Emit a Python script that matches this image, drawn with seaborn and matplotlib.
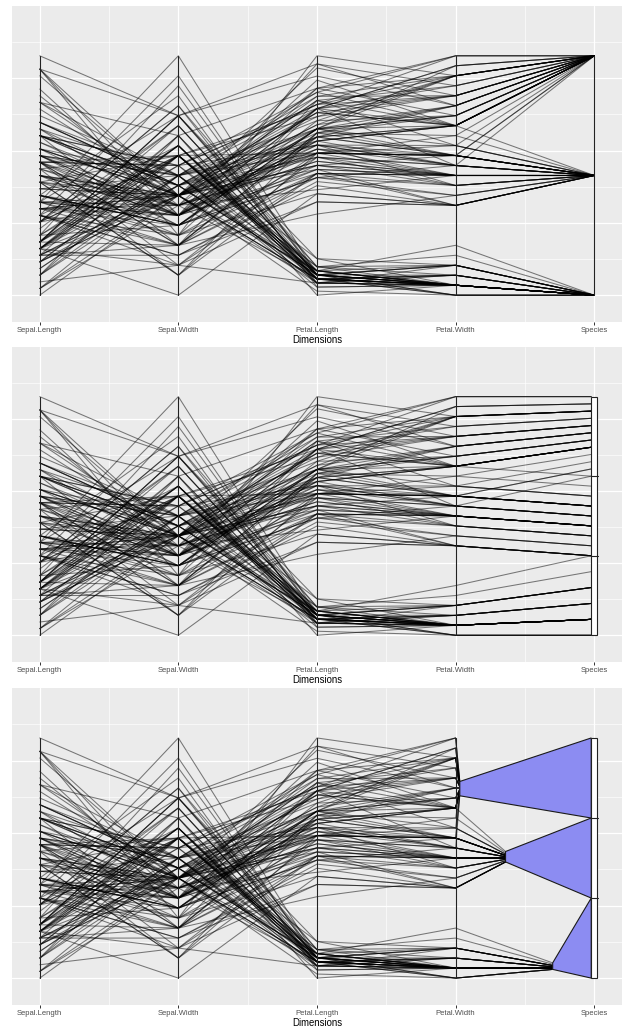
import numpy as np
import pandas as pd
import matplotlib
matplotlib.use("Agg")
import matplotlib.pyplot as plt
from matplotlib.patches import Rectangle, Polygon
import seaborn as sns

# ---- iris measurements (150 flowers) ----
sepal_length = [
    5.1, 4.9, 4.7, 4.6, 5.0, 5.4, 4.6, 5.0, 4.4, 4.9, 5.4, 4.8, 4.8, 4.3, 5.8, 5.7, 5.4, 5.1, 5.7, 5.1,
    5.4, 5.1, 4.6, 5.1, 4.8, 5.0, 5.0, 5.2, 5.2, 4.7, 4.8, 5.4, 5.2, 5.5, 4.9, 5.0, 5.5, 4.9, 4.4, 5.1,
    5.0, 4.5, 4.4, 5.0, 5.1, 4.8, 5.1, 4.6, 5.3, 5.0,
    7.0, 6.4, 6.9, 5.5, 6.5, 5.7, 6.3, 4.9, 6.6, 5.2, 5.0, 5.9, 6.0, 6.1, 5.6, 6.7, 5.6, 5.8, 6.2, 5.6,
    5.9, 6.1, 6.3, 6.1, 6.4, 6.6, 6.8, 6.7, 6.0, 5.7, 5.5, 5.5, 5.8, 6.0, 5.4, 6.0, 6.7, 6.3, 5.6, 5.5,
    5.5, 6.1, 5.8, 5.0, 5.6, 5.7, 5.7, 6.2, 5.1, 5.7,
    6.3, 5.8, 7.1, 6.3, 6.5, 7.6, 4.9, 7.3, 6.7, 7.2, 6.5, 6.4, 6.8, 5.7, 5.8, 6.4, 6.5, 7.7, 7.7, 6.0,
    6.9, 5.6, 7.7, 6.3, 6.7, 7.2, 6.2, 6.1, 6.4, 7.2, 7.4, 7.9, 6.4, 6.3, 6.1, 7.7, 6.3, 6.4, 6.0, 6.9,
    6.7, 6.9, 5.8, 6.8, 6.7, 6.7, 6.3, 6.5, 6.2, 5.9,
]
sepal_width = [
    3.5, 3.0, 3.2, 3.1, 3.6, 3.9, 3.4, 3.4, 2.9, 3.1, 3.7, 3.4, 3.0, 3.0, 4.0, 4.4, 3.9, 3.5, 3.8, 3.8,
    3.4, 3.7, 3.6, 3.3, 3.4, 3.0, 3.4, 3.5, 3.4, 3.2, 3.1, 3.4, 4.1, 4.2, 3.1, 3.2, 3.5, 3.6, 3.0, 3.4,
    3.5, 2.3, 3.2, 3.5, 3.8, 3.0, 3.8, 3.2, 3.7, 3.3,
    3.2, 3.2, 3.1, 2.3, 2.8, 2.8, 3.3, 2.4, 2.9, 2.7, 2.0, 3.0, 2.2, 2.9, 2.9, 3.1, 3.0, 2.7, 2.2, 2.5,
    3.2, 2.8, 2.5, 2.8, 2.9, 3.0, 2.8, 3.0, 2.9, 2.6, 2.4, 2.4, 2.7, 2.7, 3.0, 3.4, 3.1, 2.3, 3.0, 2.5,
    2.6, 3.0, 2.6, 2.3, 2.7, 3.0, 2.9, 2.9, 2.5, 2.8,
    3.3, 2.7, 3.0, 2.9, 3.0, 3.0, 2.5, 2.9, 2.5, 3.6, 3.2, 2.7, 3.0, 2.5, 2.8, 3.2, 3.0, 3.8, 2.6, 2.2,
    3.2, 2.8, 2.8, 2.7, 3.3, 3.2, 2.8, 3.0, 2.8, 3.0, 2.8, 3.8, 2.8, 2.8, 2.6, 3.0, 3.4, 3.1, 3.0, 3.1,
    3.1, 3.1, 2.7, 3.2, 3.3, 3.0, 2.5, 3.0, 3.4, 3.0,
]
petal_length = [
    1.4, 1.4, 1.3, 1.5, 1.4, 1.7, 1.4, 1.5, 1.4, 1.5, 1.5, 1.6, 1.4, 1.1, 1.2, 1.5, 1.3, 1.4, 1.7, 1.5,
    1.7, 1.5, 1.0, 1.7, 1.9, 1.6, 1.6, 1.5, 1.4, 1.6, 1.6, 1.5, 1.5, 1.4, 1.5, 1.2, 1.3, 1.4, 1.3, 1.5,
    1.3, 1.3, 1.3, 1.6, 1.9, 1.4, 1.6, 1.4, 1.5, 1.4,
    4.7, 4.5, 4.9, 4.0, 4.6, 4.5, 4.7, 3.3, 4.6, 3.9, 3.5, 4.2, 4.0, 4.7, 3.6, 4.4, 4.5, 4.1, 4.5, 3.9,
    4.8, 4.0, 4.9, 4.7, 4.3, 4.4, 4.8, 5.0, 4.5, 3.5, 3.8, 3.7, 3.9, 5.1, 4.5, 4.5, 4.7, 4.4, 4.1, 4.0,
    4.4, 4.6, 4.0, 3.3, 4.2, 4.2, 4.2, 4.3, 3.0, 4.1,
    6.0, 5.1, 5.9, 5.6, 5.8, 6.6, 4.5, 6.3, 5.8, 6.1, 5.1, 5.3, 5.5, 5.0, 5.1, 5.3, 5.5, 6.7, 6.9, 5.0,
    5.7, 4.9, 6.7, 4.9, 5.7, 6.0, 4.8, 4.9, 5.6, 5.8, 6.1, 6.4, 5.6, 5.1, 5.6, 6.1, 5.6, 5.5, 4.8, 5.4,
    5.6, 5.1, 5.1, 5.9, 5.7, 5.2, 5.0, 5.2, 5.4, 5.1,
]
petal_width = [
    0.2, 0.2, 0.2, 0.2, 0.2, 0.4, 0.3, 0.2, 0.2, 0.1, 0.2, 0.2, 0.1, 0.1, 0.2, 0.4, 0.4, 0.3, 0.3, 0.3,
    0.2, 0.4, 0.2, 0.5, 0.2, 0.2, 0.4, 0.2, 0.2, 0.2, 0.2, 0.4, 0.1, 0.2, 0.2, 0.2, 0.2, 0.1, 0.2, 0.2,
    0.3, 0.3, 0.2, 0.6, 0.4, 0.3, 0.2, 0.2, 0.2, 0.2,
    1.4, 1.5, 1.5, 1.3, 1.5, 1.3, 1.6, 1.0, 1.3, 1.4, 1.0, 1.5, 1.0, 1.4, 1.3, 1.4, 1.5, 1.0, 1.5, 1.1,
    1.8, 1.3, 1.5, 1.2, 1.3, 1.4, 1.4, 1.7, 1.5, 1.0, 1.1, 1.0, 1.2, 1.6, 1.5, 1.6, 1.5, 1.3, 1.3, 1.3,
    1.2, 1.4, 1.2, 1.0, 1.3, 1.2, 1.3, 1.3, 1.1, 1.3,
    2.5, 1.9, 2.1, 1.8, 2.2, 2.1, 1.7, 1.8, 1.8, 2.5, 2.0, 1.9, 2.1, 2.0, 2.4, 2.3, 1.8, 2.2, 2.3, 1.5,
    2.3, 2.0, 2.0, 1.8, 2.1, 1.8, 1.8, 1.8, 2.1, 1.6, 1.9, 2.0, 2.2, 1.5, 1.4, 2.3, 2.4, 1.8, 1.8, 2.1,
    2.4, 2.3, 1.9, 2.3, 2.5, 2.3, 1.9, 2.0, 2.3, 1.8,
]
species_levels = ["setosa", "versicolor", "virginica"]
species_counts = [50, 50, 50]
dimensions = ["Sepal.Length", "Sepal.Width", "Petal.Length", "Petal.Width", "Species"]

# ---- layout / style settings ----
FIG_W, FIG_H = 622, 1030
PANELS_PX = [(6, 322), (347, 662), (688, 1005)]      # (top, bottom) of each panel in pixels
PANEL_LEFT, PANEL_RIGHT = 12, 622
YLIM = (-0.112, 1.208)
GRID_STEP = 0.151
BOX_HALF = 0.022                                      # half width of the factor box
BAND_START = {"setosa": 0.70, "versicolor": 0.36, "virginica": 0.03}
BAND_SQUEEZE = 0.13
BAND_FILL = "#8c8cf2"
LINE_KW = dict(color="black", alpha=0.5, linewidth=0.75)

# ---- derived coordinates ----
species = np.repeat(species_levels, species_counts)
codes = np.array([species_levels.index(s) for s in species])
n_obs = len(species)
n_lev = len(species_levels)
numeric = np.column_stack([sepal_length, sepal_width, petal_length, petal_width]).astype(float)
scaled = (numeric - numeric.min(axis=0)) / (numeric.max(axis=0) - numeric.min(axis=0))
axis_x = np.arange(1, len(dimensions) + 1, dtype=float)
box_left = axis_x[-1] - BOX_HALF
block = 1.0 / n_lev

# species as evenly spaced levels
species_level_y = codes / (n_lev - 1)

# species spread inside each level block, following the petal width on the left
species_slot_y = np.empty(n_obs)
for k in range(n_lev):
    idx = np.where(codes == k)[0]
    pw = scaled[idx, 3]
    species_slot_y[idx] = k * block + block * (pw - pw.min()) / (pw.max() - pw.min())

# converging bundles that feed each species band
bundle_x = np.empty(n_obs)
bundle_y = np.empty(n_obs)
for k, lev in enumerate(species_levels):
    idx = np.where(codes == k)[0]
    med = np.median(scaled[idx, 3])
    bundle_y[idx] = med + BAND_SQUEEZE * (scaled[idx, 3] - med)
    bundle_x[idx] = axis_x[3] + BAND_START[lev] * (axis_x[4] - axis_x[3])


def long_frame(xs, ys):
    parts = []
    for x, y in zip(xs, ys):
        parts.append(pd.DataFrame({"id": np.arange(n_obs),
                                   "x": np.broadcast_to(np.asarray(x, dtype=float), (n_obs,)),
                                   "y": y}))
    return pd.concat(parts, ignore_index=True)


num_x = list(axis_x[:4])
num_y = [scaled[:, j] for j in range(4)]
frames = [
    long_frame(num_x + [axis_x[4]], num_y + [species_level_y]),
    long_frame(num_x + [box_left], num_y + [species_slot_y]),
    long_frame(num_x + [bundle_x], num_y + [bundle_y]),
]

# ---- theme ----
sns.set_theme(style="darkgrid", rc={
    "axes.facecolor": "#EBEBEB",
    "grid.color": "white",
    "axes.edgecolor": "#EBEBEB",
})
plt.rcParams["font.family"] = ["Liberation Sans", "DejaVu Sans"]

fig = plt.figure(figsize=(FIG_W / 100, FIG_H / 100), dpi=100)
fig.patch.set_facecolor("white")

for p, ((top, bottom), df) in enumerate(zip(PANELS_PX, frames)):
    ax = fig.add_axes([PANEL_LEFT / FIG_W, 1 - bottom / FIG_H,
                       (PANEL_RIGHT - PANEL_LEFT) / FIG_W, (bottom - top) / FIG_H])
    ax.set_facecolor("#EBEBEB")
    for s in ax.spines.values():
        s.set_visible(False)

    # polylines, one per flower
    sns.lineplot(data=df, x="x", y="y", units="id", estimator=None,
                 ax=ax, legend=False, **LINE_KW)

    # vertical axes for the numeric dimensions
    n_axes = 5 if p == 0 else 4
    for x in axis_x[:n_axes]:
        ax.plot([x, x], [0, 1], color="#222222", lw=0.8, zorder=3)

    if p == 2:
        for k, lev in enumerate(species_levels):
            idx = np.where(codes == k)[0]
            bx = bundle_x[idx][0]
            lo, hi = k * block, (k + 1) * block
            poly = Polygon([(bx, bundle_y[idx].min()), (bx, bundle_y[idx].max()),
                            (box_left, hi), (box_left, lo)], closed=True,
                           facecolor=BAND_FILL, edgecolor="#1a1a1a", lw=0.8, zorder=4)
            ax.add_patch(poly)

    if p >= 1:
        ax.add_patch(Rectangle((box_left, 0), 2 * BOX_HALF, 1, facecolor="white",
                               edgecolor="#222222", lw=0.8, zorder=5))
        for k in range(1, n_lev):
            ax.plot([box_left, axis_x[-1] + BOX_HALF * 1.3], [k * block] * 2,
                    color="#222222", lw=0.8, zorder=6)

    ax.set_xlim(0.8, 5.2)
    ax.set_ylim(*YLIM)
    ax.set_xticks(axis_x)
    ax.set_xticks(axis_x[:-1] + 0.5, minor=True)
    ax.set_xticklabels(dimensions)
    major_y = np.arange(0, 1.1, 2 * GRID_STEP)
    ax.set_yticks(major_y)
    ax.set_yticks(major_y + GRID_STEP, minor=True)
    ax.set_yticklabels([])
    ax.grid(which="major", color="white", lw=0.9)
    ax.grid(which="minor", color="white", lw=0.45)
    ax.tick_params(axis="y", which="both", left=False, labelleft=False)
    ax.tick_params(axis="x", which="major", bottom=True, length=2.2, width=0.7,
                   color="#333333", labelsize=5.5, labelcolor="#4D4D4D", pad=1.6)
    ax.tick_params(axis="x", which="minor", bottom=False)
    ax.set_xlabel("Dimensions", fontsize=6.9, color="black", labelpad=0.8)
    ax.set_ylabel("")

fig.savefig("out.png", dpi=100, facecolor="white")
